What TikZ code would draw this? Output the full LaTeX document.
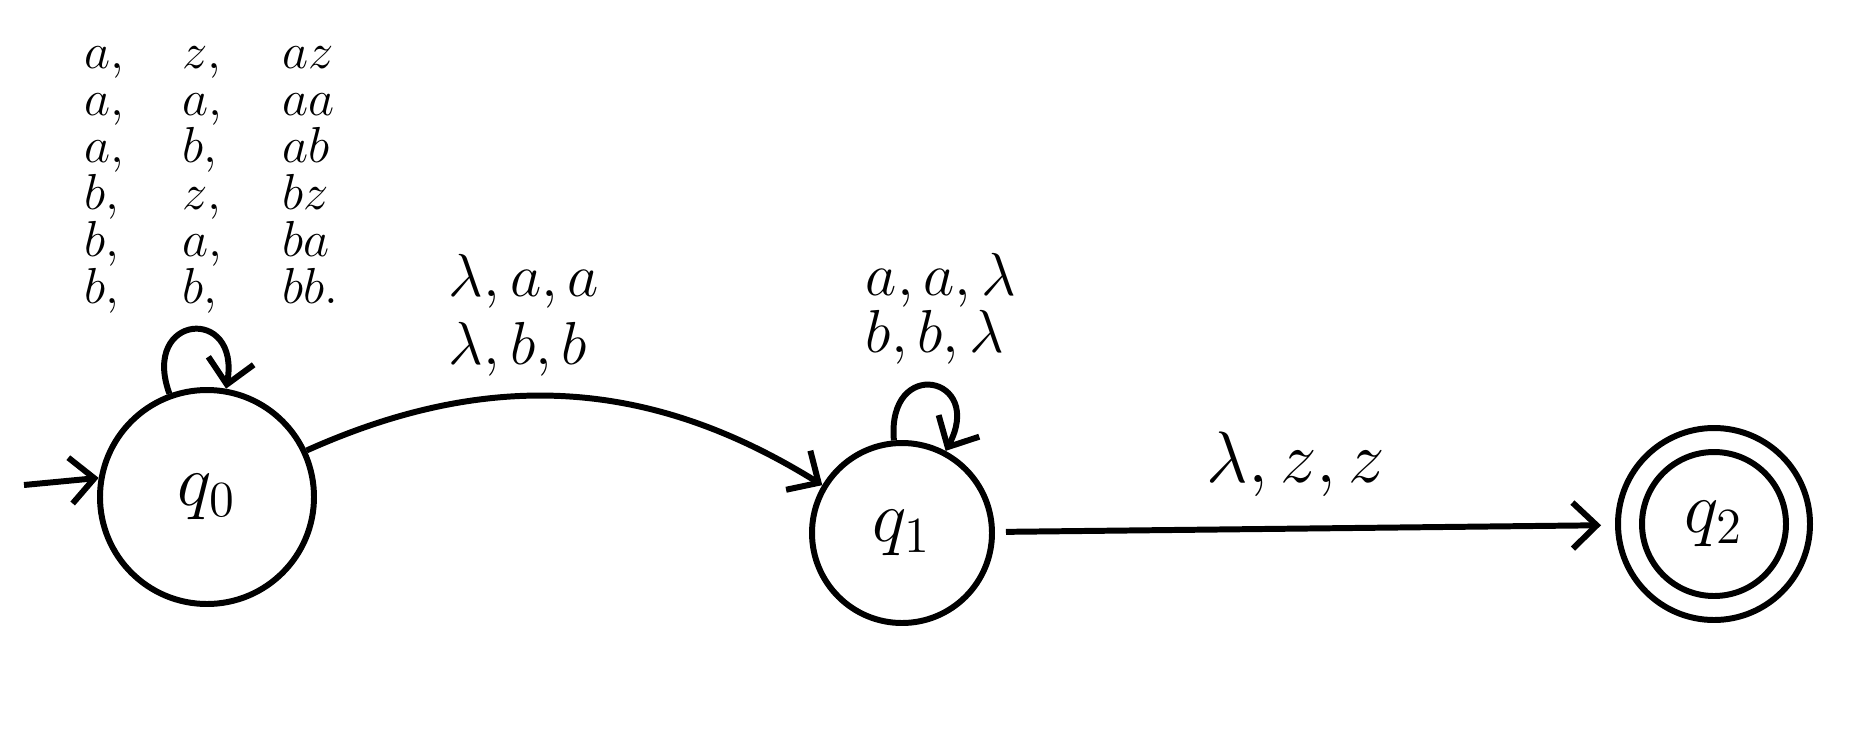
\documentclass[tikz,border=0pt]{standalone}
\usetikzlibrary{arrows.meta}
\begin{document}
\begin{tikzpicture}[line width=1.7pt, >={Straight Barb[length=2.4mm,width=4.6mm]},
        st/.style={circle, draw, inner sep=0pt, font=\fontsize{22}{26}\selectfont},
        lbl/.style={font=\fontsize{16}{14}\selectfont},
        cell/.style={anchor=base west, inner sep=0.5pt, font=\fontsize{14.5}{14}\selectfont}]
    \useasboundingbox (0,0) rectangle (18.56,7.41);
    \node[st, minimum size=2.14cm] (q0) at (2.07,2.44) {$q_0$};
    \node[st, minimum size=1.80cm] (q1) at (9.02,2.08) {$q_1$};
    \node[st, minimum size=1.92cm] (q2) at (17.14,2.17) {$q_2$};
    \node[circle, draw, minimum size=1.44cm] (q2in) at (q2) {};
    \coordinate (start) at (0.24,2.56);
    \draw[->] (start) -- (q0.170);
    \draw[->] (q0) to[out=110, in=80, distance=0.85cm] (q0);
    \draw[->] (q0) to[bend left=28] (q1);
    \draw[->] (q1) to[out=95, in=62, distance=0.85cm] (q1);
    \draw[->, shorten <=0.11cm, shorten >=0.14cm] (q1) -- (q2);
    \foreach \i/\x/\y/\z in {0/a/z/az, 1/a/a/aa, 2/a/b/ab, 3/b/z/bz, 4/b/a/ba, 5/b/b/bb.} {
        \node[cell] (in\i) at (0.80, 6.73-0.47*\i) {$\x,$};
        \node[cell] (pop\i) at (1.78, 6.73-0.47*\i) {$\y,$};
        \node[cell] (push\i) at (2.78, 6.73-0.47*\i) {$\z$};
    }
    \node[lbl, align=left] (lab01) at (5.24,4.26) {$\lambda, a, a$\\[3pt]$\lambda, b, b$};
    \node[lbl, align=left] (lab11) at (9.41,4.32) {$a, a, \lambda$\\$b, b, \lambda$};
    \node[font=\fontsize{22}{26}\selectfont] (lab12) at (12.96,2.77) {$\lambda, z, z$};
\end{tikzpicture}
\end{document}
